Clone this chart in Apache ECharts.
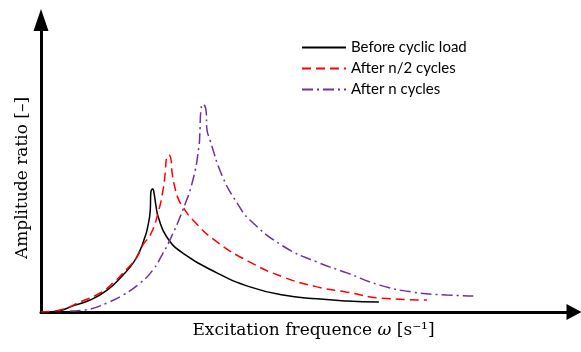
<!DOCTYPE html>
<html>
<head>
<meta charset="utf-8">
<script src="https://cdn.jsdelivr.net/npm/echarts@6/dist/echarts.min.js"></script>
<style>
  html, body { margin: 0; padding: 0; background: #fff; }
  #chart { width: 581px; height: 352px; }
</style>
</head>
<body>
<div id="chart"></div>
<script>
// Frequency response curves: [excitation frequency, amplitude ratio]
const beforeLoad = [
  [0, 0], [0.30, 0.03], [0.60, 0.21], [0.92, 0.41], [1.24, 0.75], [1.54, 1.27],
  [1.73, 1.68], [1.86, 2.12], [1.95, 2.57], [1.99, 2.81], [2.05, 3.49], [2.06, 4.08],
  [2.10, 4.21], [2.12, 4.08], [2.16, 3.60], [2.20, 3.25], [2.36, 2.57], [2.66, 2.02],
  [3.30, 1.34], [3.92, 0.86], [4.54, 0.58], [5.18, 0.45], [5.74, 0.38], [6.34, 0.34]
];
const afterHalf = [
  [0, 0], [0.36, 0.07], [0.73, 0.34], [1.11, 0.65], [1.35, 0.99], [1.61, 1.47],
  [1.80, 1.88], [1.91, 2.29], [2.06, 2.67], [2.20, 3.42], [2.29, 4.18], [2.33, 4.76],
  [2.36, 5.31], [2.40, 5.38], [2.44, 5.21], [2.46, 4.76], [2.51, 4.28], [2.57, 3.90],
  [2.66, 3.60], [2.85, 3.15], [3.30, 2.40], [3.92, 1.71], [4.54, 1.20], [5.18, 0.86],
  [5.74, 0.68], [6.36, 0.48], [7.24, 0.41]
];
const afterFull = [
  [0.54, 0.03], [0.92, 0.10], [1.24, 0.31], [1.54, 0.58], [1.86, 0.99], [2.10, 1.44],
  [2.29, 2.02], [2.42, 2.47], [2.66, 3.49], [2.85, 4.52], [2.96, 5.62], [2.98, 6.13],
  [3.00, 6.92], [3.04, 7.12], [3.10, 6.85], [3.11, 6.30], [3.17, 5.89], [3.41, 4.62],
  [3.68, 3.73], [3.92, 3.15], [4.54, 2.26], [5.18, 1.71], [5.74, 1.34], [6.36, 0.92],
  [6.98, 0.68], [7.62, 0.58], [8.11, 0.55]
];
const seriesNames = ['Before cyclic load', 'After n/2 cycles', 'After n cycles'];
const xTitle = 'Excitation frequence ';
const yTitle = 'Amplitude ratio [\u2013]';

const chart = echarts.init(document.getElementById('chart'), null, { renderer: 'canvas' });

const serifFont = '"DejaVu Serif", "Liberation Serif", serif';

function curve(name, data, color, dash) {
  return {
    name: name,
    type: 'line',
    data: data,
    smooth: 0.5,
    showSymbol: false,
    symbol: 'none',
    silent: true,
    lineStyle: { color: color, width: 1.5, type: dash },
    itemStyle: { color: color }
  };
}

chart.setOption({
  animation: false,
  backgroundColor: '#fff',
  grid: { left: 41, right: 7, top: 20, bottom: 40 },
  legend: {
    orient: 'vertical',
    left: 296,
    top: 35,
    itemWidth: 44,
    itemHeight: 14,
    itemGap: 6,
    itemStyle: { opacity: 0 },
    textStyle: { fontFamily: 'Lato, "Noto Sans", sans-serif', fontSize: 15, color: '#000' },
    data: seriesNames
  },
  xAxis: {
    type: 'value',
    min: 0,
    max: 10,
    name: xTitle + '{w|\u03c9} [s\u207b\u00b9]',
    nameLocation: 'middle',
    nameGap: 10,
    nameTextStyle: {
      fontFamily: serifFont,
      fontSize: 17,
      color: '#000',
      padding: [0, 0, 0, 12],
      rich: { w: { fontFamily: serifFont, fontStyle: 'italic', fontSize: 17, color: '#000' } }
    },
    axisLine: {
      lineStyle: { color: '#000', width: 3 },
      symbol: ['none', 'triangle'],
      symbolSize: [16, 15]
    },
    axisTick: { show: false },
    axisLabel: { show: false },
    splitLine: { show: false }
  },
  yAxis: {
    type: 'value',
    min: 0,
    max: 10,
    name: yTitle,
    nameLocation: 'middle',
    nameGap: 10,
    nameTextStyle: {
      fontFamily: serifFont,
      fontSize: 17,
      color: '#000',
      padding: [0, 24, 0, 0]
    },
    axisLine: {
      lineStyle: { color: '#000', width: 3 },
      symbol: ['none', 'triangle'],
      symbolSize: [15, 22]
    },
    axisTick: { show: false },
    axisLabel: { show: false },
    splitLine: { show: false }
  },
  series: [
    curve(seriesNames[0], beforeLoad, '#000000', 'solid'),
    curve(seriesNames[1], afterHalf, '#ff0000', [9, 5]),
    curve(seriesNames[2], afterFull, '#7030a0', [11, 4, 2, 4])
  ]
});
</script>
</body>
</html>
